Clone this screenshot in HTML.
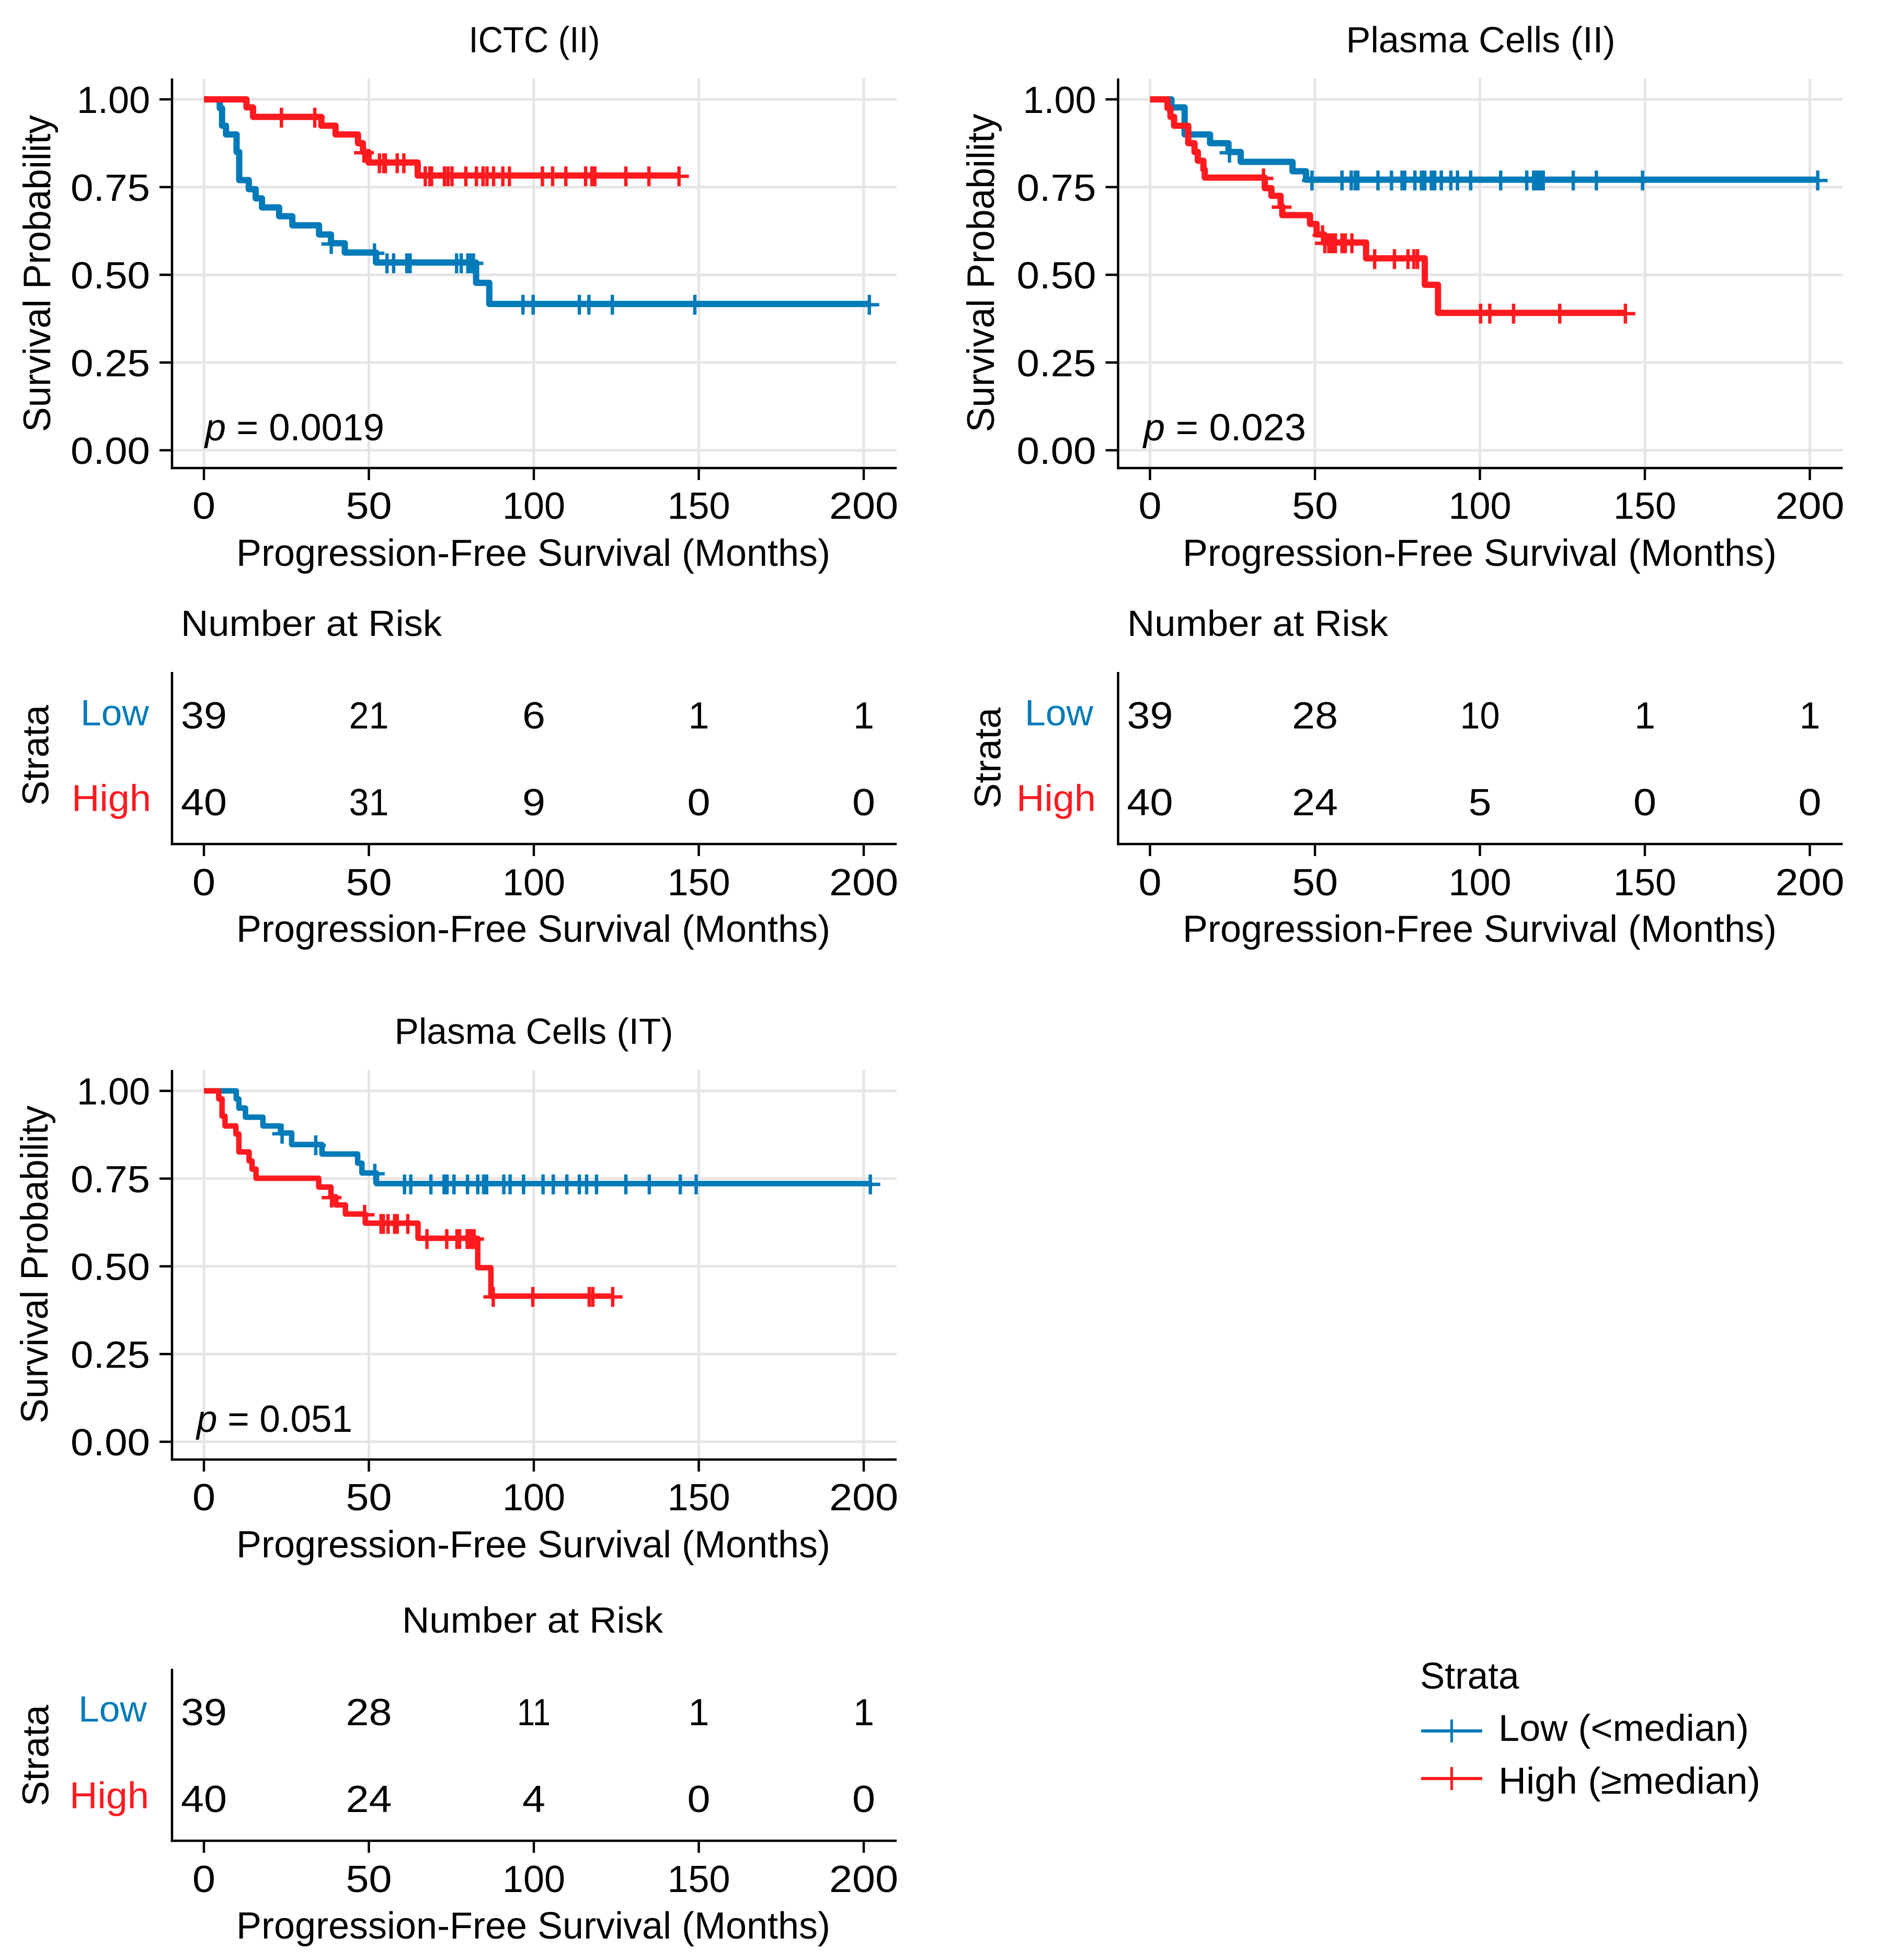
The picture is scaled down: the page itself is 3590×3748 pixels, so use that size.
<!DOCTYPE html>
<html lang="en">
<head>
<meta charset="utf-8">
<title>Progression-Free Survival Kaplan-Meier Curves</title>
<style>
html,body{margin:0;padding:0;background:#fff;}
svg{display:block;}
text{font-family:"Liberation Sans",sans-serif;fill:#000;}
</style>
</head>
<body>
<svg id="figure" xmlns="http://www.w3.org/2000/svg" width="3590" height="3748" viewBox="0 0 3590 3748">
  <rect x="0" y="0" width="3590" height="3748" fill="#ffffff"/>
  <g id="marks"></g>

  <text x="1022" y="100" font-size="70" text-anchor="middle" textLength="251" lengthAdjust="spacingAndGlyphs">ICTC (II)</text>
  <text x="2832" y="100" font-size="70" text-anchor="middle" textLength="515" lengthAdjust="spacingAndGlyphs">Plasma Cells (II)</text>
  <text x="1021" y="1996" font-size="70" text-anchor="middle" textLength="533" lengthAdjust="spacingAndGlyphs">Plasma Cells (IT)</text>

  <text transform="translate(96,523) rotate(-90)" font-size="73" text-anchor="middle" textLength="606" lengthAdjust="spacingAndGlyphs">Survival Probability</text>
  <text transform="translate(1901,522) rotate(-90)" font-size="73" text-anchor="middle" textLength="609" lengthAdjust="spacingAndGlyphs">Survival Probability</text>
  <text transform="translate(91,2418) rotate(-90)" font-size="73" text-anchor="middle" textLength="608" lengthAdjust="spacingAndGlyphs">Survival Probability</text>

  <text x="392" y="842" font-size="72" textLength="343" lengthAdjust="spacingAndGlyphs"><tspan font-style="italic">p</tspan> = 0.0019</text>
  <text x="2187" y="842" font-size="72" textLength="311" lengthAdjust="spacingAndGlyphs"><tspan font-style="italic">p</tspan> = 0.023</text>
  <text x="376" y="2738" font-size="72" textLength="298" lengthAdjust="spacingAndGlyphs"><tspan font-style="italic">p</tspan> = 0.051</text>

  <text x="1020" y="1082" font-size="72" text-anchor="middle" textLength="1136" lengthAdjust="spacingAndGlyphs">Progression-Free Survival (Months)</text>
  <text x="2830" y="1082" font-size="72" text-anchor="middle" textLength="1136" lengthAdjust="spacingAndGlyphs">Progression-Free Survival (Months)</text>
  <text x="1020" y="2978" font-size="72" text-anchor="middle" textLength="1136" lengthAdjust="spacingAndGlyphs">Progression-Free Survival (Months)</text>

  <text x="1020" y="1801" font-size="72" text-anchor="middle" textLength="1136" lengthAdjust="spacingAndGlyphs">Progression-Free Survival (Months)</text>
  <text x="2830" y="1801" font-size="72" text-anchor="middle" textLength="1136" lengthAdjust="spacingAndGlyphs">Progression-Free Survival (Months)</text>
  <text x="1020" y="3707" font-size="72" text-anchor="middle" textLength="1136" lengthAdjust="spacingAndGlyphs">Progression-Free Survival (Months)</text>

  <text x="346" y="1216" font-size="70" textLength="499" lengthAdjust="spacingAndGlyphs">Number at Risk</text>
  <text x="2156" y="1216" font-size="70" textLength="499" lengthAdjust="spacingAndGlyphs">Number at Risk</text>
  <text x="769" y="3122" font-size="70" textLength="499" lengthAdjust="spacingAndGlyphs">Number at Risk</text>

  <text transform="translate(92.5,1444.5) rotate(-90)" font-size="71" text-anchor="middle" textLength="193" lengthAdjust="spacingAndGlyphs">Strata</text>
  <text transform="translate(1913.5,1449.5) rotate(-90)" font-size="71" text-anchor="middle" textLength="193" lengthAdjust="spacingAndGlyphs">Strata</text>
  <text transform="translate(92.5,3357) rotate(-90)" font-size="71" text-anchor="middle" textLength="194" lengthAdjust="spacingAndGlyphs">Strata</text>

  <text x="154" y="1387" font-size="70" textLength="131" lengthAdjust="spacingAndGlyphs" style="fill:#007ab8">Low</text>
  <text x="137" y="1551" font-size="71" textLength="152" lengthAdjust="spacingAndGlyphs" style="fill:#ff1a1f">High</text>
  <text x="1960" y="1387" font-size="70" textLength="131" lengthAdjust="spacingAndGlyphs" style="fill:#007ab8">Low</text>
  <text x="1944" y="1551" font-size="71" textLength="152" lengthAdjust="spacingAndGlyphs" style="fill:#ff1a1f">High</text>
  <text x="150" y="3292" font-size="70" textLength="131" lengthAdjust="spacingAndGlyphs" style="fill:#007ab8">Low</text>
  <text x="133" y="3458" font-size="71" textLength="152" lengthAdjust="spacingAndGlyphs" style="fill:#ff1a1f">High</text>

  <g>
    <text x="2716" y="3229" font-size="71">Strata</text>
    <line x1="2718" x2="2835" y1="3310" y2="3310" stroke="#007ab8" stroke-width="6"/>
    <line x1="2776.5" x2="2776.5" y1="3288" y2="3332" stroke="#007ab8" stroke-width="5"/>
    <text x="2866" y="3329" font-size="71" textLength="479" lengthAdjust="spacingAndGlyphs">Low (&lt;median)</text>
    <line x1="2718" x2="2835" y1="3401" y2="3401" stroke="#ff1a1f" stroke-width="6"/>
    <line x1="2776.5" x2="2776.5" y1="3379" y2="3423" stroke="#ff1a1f" stroke-width="5"/>
    <text x="2866" y="3430" font-size="71" textLength="501" lengthAdjust="spacingAndGlyphs">High (≥median)</text>
  </g>
</svg>
<script>
var xTicks = [0, 50, 100, 150, 200];
var yTicks = [0, 0.25, 0.5, 0.75, 1];
var yTickLabels = ['0.00', '0.25', '0.50', '0.75', '1.00'];

var ictcLowTimes = [0, 4.8, 5.5, 6.7, 9.9, 10.7, 13.6, 15.7, 17.6, 22.8, 26.8, 34.9, 38.5, 42.7, 52.2, 82.5, 86.5];
var ictcLowSurv = [1, 0.975, 0.925, 0.9, 0.85, 0.77, 0.744, 0.718, 0.692, 0.667, 0.641, 0.615, 0.59, 0.5636, 0.535, 0.477, 0.417];
var ictcLowCensor = [38.6, 51.7, 55.5, 57.5, 61.5, 62.5, 76.6, 78, 80, 81, 81.7, 96.7, 99.8, 113.8, 116.7, 123.8, 148.8, 201.7];
var ictcHighTimes = [0, 12.9, 14.9, 35.6, 39.9, 46.7, 48.2, 49.9, 64.8];
var ictcHighSurv = [1, 0.977, 0.95, 0.925, 0.9, 0.875, 0.85, 0.82, 0.783];
var ictcHighCensor = [23.5, 33.6, 48.5, 53.2, 54.5, 55, 58.6, 60.6, 67.1, 68.5, 69, 72.9, 74, 75.2, 79.4, 82.6, 84.6, 85.8, 87.8, 90.6, 92.6, 102.6, 105.7, 109.7, 115.7, 117.6, 118.5, 127.9, 134.9, 144];

var plasmaIILowTimes = [0, 6.5, 10.5, 18.2, 23.8, 27.5, 43.2, 47.3];
var plasmaIILowSurv = [1, 0.977, 0.9, 0.875, 0.85, 0.822, 0.795, 0.771];
var plasmaIILowCensor = [24.1, 49.1, 58.2, 61, 62.2, 63, 69.1, 73.2, 76.4, 77.2, 80.3, 82.3, 83.3, 85.3, 86.3, 88.3, 91.2, 93.2, 97.2, 106.3, 114.2, 116.3, 117, 117.8, 118.5, 119.2, 128.3, 135.3, 149.3, 202.4];
var plasmaIIHighTimes = [0, 5.3, 6.2, 7.3, 11.6, 13.5, 14.5, 16.2, 16.6, 34.8, 36.8, 39.6, 40.1, 48.5, 50.5, 52.8, 65.5, 83.3, 87.3];
var plasmaIIHighSurv = [1, 0.975, 0.95, 0.925, 0.875, 0.85, 0.825, 0.8, 0.777, 0.747, 0.725, 0.695, 0.67, 0.645, 0.615, 0.592, 0.547, 0.4715, 0.3916];
var plasmaIIHighCensor = [34.4, 39.9, 52.3, 53, 54.2, 55.2, 56.2, 58.2, 59.2, 61.2, 68.1, 74.1, 78.2, 80, 81.1, 100.2, 103, 110.2, 124.2, 144.1];

var plasmaITLowTimes = [0, 9.8, 10.6, 12.6, 17.9, 23.2, 26.6, 35.8, 46.6, 47.9, 52.3];
var plasmaITLowSurv = [1, 0.977, 0.951, 0.925, 0.9, 0.88, 0.847, 0.82, 0.794, 0.766, 0.7356];
var plasmaITLowCensor = [23.7, 33.9, 51.8, 60.8, 62.7, 68.8, 72.8, 73.7, 75.8, 79.9, 83, 84.8, 85.7, 90.9, 92.8, 96.9, 102.8, 105.9, 110, 113.8, 116, 119, 127.9, 135, 144.4, 149.2, 202];
var plasmaITHighTimes = [0, 4.5, 5.5, 6.4, 9.7, 10.6, 13.7, 14.6, 15.8, 34.8, 38.5, 40, 42.9, 48.9, 64.9, 83, 87];
var plasmaITHighSurv = [1, 0.977, 0.928, 0.9, 0.877, 0.826, 0.8, 0.777, 0.751, 0.726, 0.698, 0.675, 0.649, 0.623, 0.58, 0.496, 0.415];
var plasmaITHighCensor = [38.7, 48.7, 53.7, 54.4, 55.8, 57.8, 58.6, 61.8, 67.6, 73.6, 76.7, 77.5, 79.8, 80.6, 81.3, 81.9, 87.7, 99.7, 116.8, 117.9, 123.9];

var ictcRiskLow = [39, 21, 6, 1, 1];
var ictcRiskHigh = [40, 31, 9, 0, 0];
var plasmaIIRiskLow = [39, 28, 10, 1, 1];
var plasmaIIRiskHigh = [40, 24, 5, 0, 0];
var plasmaITRiskLow = [39, 28, 11, 1, 1];
var plasmaITRiskHigh = [40, 24, 4, 0, 0];

var NS = 'http://www.w3.org/2000/svg';
var root = document.getElementById('marks');
var BLUE = '#007ab8', RED = '#ff1a1f', GRID = '#e5e5e5';
var PX_PER_MONTH = 6.31, PX_PER_UNIT = 671;

function mk(tag, parent) {
  var n = document.createElementNS(NS, tag);
  parent.appendChild(n);
  return n;
}
function setLine(n, x1, y1, x2, y2, color, w) {
  n.setAttribute('x1', x1);
  n.setAttribute('y1', y1);
  n.setAttribute('x2', x2);
  n.setAttribute('y2', y2);
  n.setAttribute('stroke', color);
  n.setAttribute('stroke-width', w);
}
// The reference face has wider round digits and a narrower "1" than Liberation Sans.
function glyphWidth(str) {
  if (str === '1') return 40;
  var w = 0;
  for (var i = 0; i < str.length; i++) {
    var c = str.charAt(i);
    w += c === '.' ? 20 : (c === '1' ? 32 : 44);
  }
  return w;
}
function setText(n, x, y, str, size, anchor) {
  n.setAttribute('x', x);
  n.setAttribute('y', y);
  n.setAttribute('font-size', size);
  n.setAttribute('text-anchor', anchor);
  n.setAttribute('textLength', glyphWidth(str));
  n.setAttribute('lengthAdjust', 'spacingAndGlyphs');
  n.textContent = str;
}
function survivalAt(times, surv, t) {
  var v = surv[0];
  for (var i = 0; i < times.length; i++) { if (times[i] <= t) v = surv[i]; }
  return v;
}

function drawCurve(g, times, surv, censor, color, lw, sx, sy, key) {
  var end = censor[censor.length - 1];
  var d = 'M' + sx(times[0]) + ' ' + sy(surv[0]);
  for (var i = 1; i < times.length; i++) {
    d += 'H' + sx(times[i]) + 'V' + sy(surv[i]);
  }
  d += 'H' + sx(end);
  var p = mk('path', g);
  p.setAttribute('d', d);
  p.setAttribute('fill', 'none');
  p.setAttribute('stroke', color);
  p.setAttribute('stroke-width', lw);
  p.setAttribute('stroke-linejoin', 'round');
  p.setAttribute('stroke-linecap', 'butt');
  
  
  censor.forEach(function (t) {
    var cx = sx(t), cy = sy(survivalAt(times, surv, t)) + 1.5;
    var m = mk('path', g);
    m.setAttribute('d', 'M' + (cx - 19) + ' ' + cy + 'H' + (cx + 19) + 'M' + cx + ' ' + (cy - 19) + 'V' + (cy + 19));
    m.setAttribute('fill', 'none');
    m.setAttribute('stroke', color);
    m.setAttribute('stroke-width', 6.5);
    
    
  });
}

function drawAxes(g, axisX, x0, right, top, bottom, tickEnd, labelY, key) {
  xTicks.forEach(function (t, i) {
    var tick = mk('line', g);
    setLine(tick, x0 + t * PX_PER_MONTH, bottom, x0 + t * PX_PER_MONTH, tickEnd, '#000', 4.5);
    
    
    var lab = mk('text', g);
    setText(lab, x0 + t * PX_PER_MONTH, labelY, String(xTicks[i]), 72, 'middle');
    
    
  });
  var ax = mk('line', g);
  setLine(ax, axisX, top, axisX, bottom + 2.25, '#000', 4.5);
  
  
  var bx = mk('line', g);
  setLine(bx, axisX - 2.25, bottom, right, bottom, '#000', 4.5);
  
  
}

function drawPanel(key, x0, yBase, lw, low, high) {
  var g = mk('g', root);
  
  
  var axisX = x0 - 61, right = x0 + 1325;
  var sx = function (t) { return x0 + t * PX_PER_MONTH; };
  var sy = function (v) { return yBase - v * PX_PER_UNIT; };
  var top = yBase - 711, bottom = yBase + 34;

  yTicks.forEach(function (v, i) {
    var gl = mk('line', g);
    setLine(gl, axisX, sy(v), right, sy(v), GRID, 5);
    
    
    var tk = mk('line', g);
    setLine(tk, axisX - 24, sy(v), axisX, sy(v), '#000', 4.5);
    
    
    var lab = mk('text', g);
    setText(lab, axisX - 42, sy(v) + 26, yTickLabels[i], 72, 'end');
    
    
  });
  xTicks.forEach(function (t) {
    var gl = mk('line', g);
    setLine(gl, sx(t), top, sx(t), bottom, GRID, 5);
    
    
  });
  drawAxes(g, axisX, x0, right, top, bottom, bottom + 23, yBase + 131, key);
  drawCurve(g, low[0], low[1], low[2], BLUE, lw, sx, sy, key + '-low');
  drawCurve(g, high[0], high[1], high[2], RED, lw, sx, sy, key + '-high');
}

function drawTable(key, x0, top, lowVals, highVals) {
  var g = mk('g', root);
  
  
  var bottom = top + 329, axisX = x0 - 61, right = x0 + 1325;
  drawAxes(g, axisX, x0, right, top, bottom, bottom + 23, bottom + 98, key + '-risk');
  xTicks.forEach(function (t, i) {
    var a = mk('text', g);
    setText(a, x0 + t * PX_PER_MONTH, top + 108, String(lowVals[i]), 72, 'middle');
    
    
    var b = mk('text', g);
    setText(b, x0 + t * PX_PER_MONTH, top + 274, String(highVals[i]), 72, 'middle');
    
    
  });
}

drawPanel('ictc', 390, 861, 12,
  [ictcLowTimes, ictcLowSurv, ictcLowCensor],
  [ictcHighTimes, ictcHighSurv, ictcHighCensor]);
drawPanel('plasma-ii', 2199.5, 861, 12,
  [plasmaIILowTimes, plasmaIILowSurv, plasmaIILowCensor],
  [plasmaIIHighTimes, plasmaIIHighSurv, plasmaIIHighCensor]);
drawPanel('plasma-it', 390, 2757, 10.5,
  [plasmaITLowTimes, plasmaITLowSurv, plasmaITLowCensor],
  [plasmaITHighTimes, plasmaITHighSurv, plasmaITHighCensor]);

drawTable('ictc', 390, 1285, ictcRiskLow, ictcRiskHigh);
drawTable('plasma-ii', 2199.5, 1285, plasmaIIRiskLow, plasmaIIRiskHigh);
drawTable('plasma-it', 390, 3191, plasmaITRiskLow, plasmaITRiskHigh);
</script>
</body>
</html>
